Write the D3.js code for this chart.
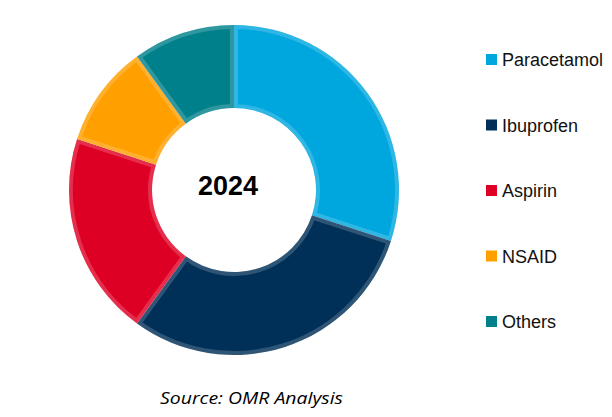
<!DOCTYPE html>
<html>
<head>
<meta charset="utf-8">
<script src="https://cdn.jsdelivr.net/npm/d3@7"></script>
<style>
html,body{margin:0;padding:0;background:#fff;}
svg{display:block;}
</style>
</head>
<body>
<script>
const categories = ["Paracetamol", "Ibuprofen", "Aspirin", "NSAID", "Others"];
const shares = [30, 30, 20, 10, 10];
const colors = ["#00A6DE", "#003057", "#DE0024", "#FF9F00", "#00808A"];
const centerLabel = "2024";
const sourceText = "Source: OMR Analysis";

const W = 612, H = 417;
const cx = 234, cy = 190, outerR = 165, innerR = 82;

const svg = d3.select("body").append("svg").attr("width", W).attr("height", H);

const color = d3.scaleOrdinal().domain(categories).range(colors);
const pie = d3.pie().sort(null).value(d => d.v);
const arcs = pie(categories.map((c, i) => ({c, v: shares[i]})));
const arc = d3.arc().innerRadius(innerR).outerRadius(outerR);

const defs = svg.append("defs");
arcs.forEach((d, i) => {
  defs.append("clipPath").attr("id", "clip" + i).append("path").attr("d", arc(d));
});

const g = svg.append("g").attr("transform", `translate(${cx},${cy})`);
g.selectAll("path.slice").data(arcs).join("path")
  .attr("class", "slice")
  .attr("d", arc)
  .attr("fill", d => color(d.data.c));

// subtle bevel highlight along slice edges
g.selectAll("path.bevel").data(arcs).join("path")
  .attr("class", "bevel")
  .attr("d", arc)
  .attr("fill", "none")
  .attr("stroke", "#ffffff")
  .attr("stroke-opacity", 0.18)
  .attr("stroke-width", 8)
  .attr("clip-path", (d, i) => `url(#clip${i})`);

g.append("text").attr("x", -6).attr("y", -4)
  .attr("text-anchor", "middle").attr("dominant-baseline", "central")
  .attr("font-family", "Liberation Sans, Arial, sans-serif").attr("font-weight", "bold")
  .attr("font-size", 27).attr("fill", "#000").text(centerLabel);

const legY = d3.scalePoint().domain(categories).range([59, 321]);
const leg = svg.append("g");
const items = leg.selectAll("g").data(categories).join("g")
  .attr("transform", d => `translate(486,${legY(d)})`);
items.append("rect").attr("x", 0).attr("y", -5).attr("width", 11).attr("height", 11)
  .attr("fill", d => color(d));
items.append("text").attr("x", 16).attr("y", 1).attr("dominant-baseline", "central")
  .attr("font-family", "Liberation Sans, Arial, sans-serif").attr("font-size", 18)
  .attr("fill", "#111").text(d => d);

svg.append("text").attr("x", 160).attr("y", 397)
  .attr("dominant-baseline", "central")
  .attr("font-family", "Open Sans, sans-serif").attr("font-style", "italic")
  .attr("font-size", 17).attr("textLength", 183).attr("lengthAdjust", "spacingAndGlyphs")
  .attr("fill", "#000").text(sourceText);
</script>
</body>
</html>
